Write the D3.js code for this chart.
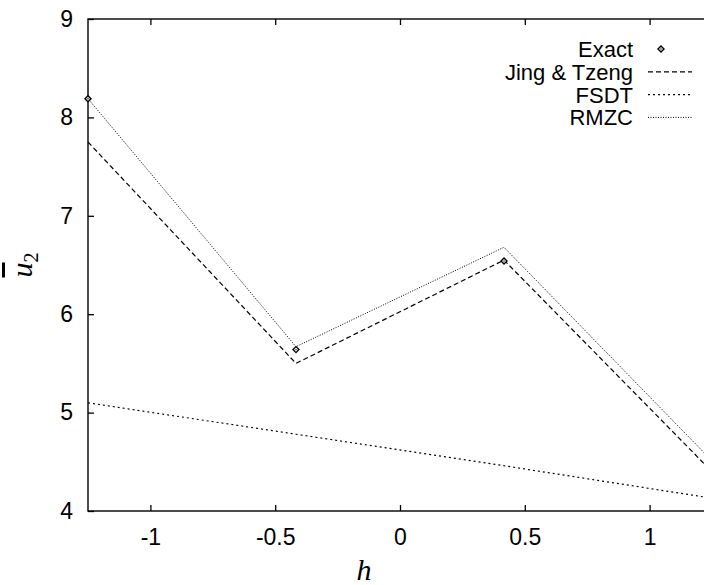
<!DOCTYPE html>
<html>
<head>
<meta charset="utf-8">
<script src="https://cdn.jsdelivr.net/npm/d3@7"></script>
<style>
  body { margin: 0; background: #fff; }
  svg { display: block; }
  text { font-family: "Liberation Sans", Arial, sans-serif; fill: #000; }
</style>
</head>
<body>
<svg id="chart"></svg>
<script>
// layer positions through the thickness
const hValues = [-1.25, -0.4167, 0.4167, 1.25];
const exactValues = [8.19, 5.64, 6.54, 4.45];
const jingValues = [7.75, 5.50, 6.55, 4.40];
const fsdtValues = [5.10, 4.78, 4.46, 4.13];
const rmzcValues = [8.19, 5.67, 6.68, 4.51];
const xTicks = [-1, -0.5, 0, 0.5, 1];
const yTicks = [4, 5, 6, 7, 8, 9];

const w = 704;
const h = 585;
const margin = { top: 19, left: 88, bottom: 74, right: -8 };

const svg = d3.select("#chart").attr("width", w).attr("height", h);

const x = d3.scaleLinear()
  .domain([-1.25, 1.25])
  .range([margin.left, w - margin.right]);
const y = d3.scaleLinear()
  .domain([4, 9])
  .range([h - margin.bottom, margin.top]);

const graph = svg.append("g");

// frame
graph.append("rect")
  .attr("x", x(-1.25))
  .attr("y", y(9))
  .attr("width", x(1.25) - x(-1.25))
  .attr("height", y(4) - y(9))
  .attr("fill", "none")
  .attr("stroke", "#000")
  .attr("stroke-width", 1.4);

// axes, ticks pointing inward
graph.append("g")
  .attr("transform", `translate(0,${y(4)})`)
  .call(d3.axisBottom(x).tickValues(xTicks).tickSize(-6).tickPadding(18).tickFormat(d => d))
  .call(g => g.select(".domain").remove())
  .call(g => g.selectAll("text").attr("font-size", 23).attr("font-family", "Liberation Sans"));

graph.append("g")
  .attr("transform", `translate(0,${y(9)})`)
  .call(d3.axisTop(x).tickValues(xTicks).tickSize(-6).tickFormat(""))
  .call(g => g.select(".domain").remove());

graph.append("g")
  .attr("transform", `translate(${x(-1.25)},0)`)
  .call(d3.axisLeft(y).tickValues(yTicks).tickSize(-6).tickPadding(15).tickFormat(d => d))
  .call(g => g.select(".domain").remove())
  .call(g => g.selectAll("text").attr("font-size", 23).attr("font-family", "Liberation Sans"));

graph.selectAll(".tick line").attr("stroke-width", 1.3);

// clip for the curves
svg.append("clipPath").attr("id", "clip")
  .append("rect")
  .attr("x", x(-1.25) - 6).attr("y", y(9))
  .attr("width", x(1.25) - x(-1.25) + 12).attr("height", y(4) - y(9));

const line = d3.line().x(d => x(d[0])).y(d => y(d[1]));
const series = [
  { name: "Jing & Tzeng", values: jingValues, dash: "5,3", width: 1.2 },
  { name: "FSDT", values: fsdtValues, dash: "2,3", width: 1.2 },
  { name: "RMZC", values: rmzcValues, dash: "1,1.5", width: 1 }
];

const plot = svg.append("g").attr("clip-path", "url(#clip)");
plot.selectAll("path.curve")
  .data(series)
  .enter()
  .append("path")
  .attr("class", "curve")
  .attr("d", d => line(hValues.map((v, i) => [v, d.values[i]])))
  .attr("fill", "none")
  .attr("stroke", "#000")
  .attr("stroke-width", d => d.width)
  .attr("stroke-dasharray", d => d.dash);

// small square turned on its corner
const marker = d3.symbol().type(d3.symbolSquare).size(18);
const drawMarker = (g, tx, ty) => {
  g.append("path")
    .attr("d", marker)
    .attr("transform", `translate(${tx},${ty}) rotate(45)`)
    .attr("fill", "#fff")
    .attr("stroke", "#000")
    .attr("stroke-width", 1.4);
  g.append("circle")
    .attr("cx", tx).attr("cy", ty).attr("r", 0.7)
    .attr("fill", "#000");
};

hValues.forEach((v, i) => drawMarker(plot, x(v), y(exactValues[i])));

// legend
const legend = svg.append("g");
const legendRows = [{ name: "Exact" }].concat(series);
legendRows.forEach((d, i) => {
  const cy = 49 + i * 22.8;
  legend.append("text")
    .attr("x", 633)
    .attr("y", cy + 8)
    .attr("text-anchor", "end")
    .attr("font-size", 22)
    .text(d.name);
  if (i === 0) {
    drawMarker(legend, 661, cy);
  } else {
    legend.append("line")
      .attr("x1", 648).attr("x2", 692)
      .attr("y1", cy).attr("y2", cy)
      .attr("stroke", "#000")
      .attr("stroke-width", d.width)
      .attr("stroke-dasharray", d.dash);
  }
});

// axis titles
svg.append("text")
  .attr("x", 364)
  .attr("y", 580)
  .attr("text-anchor", "middle")
  .attr("font-style", "italic")
  .attr("font-size", 30)
  .style("font-family", "Liberation Serif")
  .text("h");

const yTitle = svg.append("text")
  .attr("transform", `translate(32,${y(6.5)}) rotate(-90)`)
  .attr("text-anchor", "middle")
  .style("font-family", "Liberation Serif")
  .attr("font-size", 30);
yTitle.append("tspan")
  .attr("font-style", "italic")
  .style("text-decoration", "overline")
  .text("u");
yTitle.append("tspan")
  .attr("font-size", 20)
  .attr("dy", 6)
  .text("2");
</script>
</body>
</html>
